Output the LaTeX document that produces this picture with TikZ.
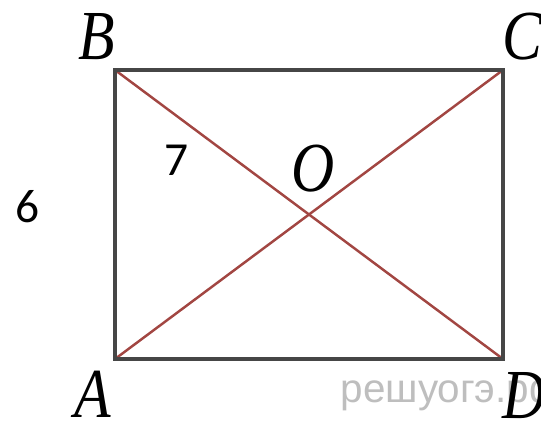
\documentclass[tikz,border=0pt]{standalone}
\usepackage{fontspec}
\setmainfont{Liberation Serif}
\newfontfamily\vertexfont[FakeStretch=0.85]{Liberation Serif}
\newfontfamily\numfont{Carlito}
\newfontfamily\markfont{Liberation Sans}
\usetikzlibrary{calc}
\definecolor{framegray}{RGB}{70,70,70}
\definecolor{diagred}{RGB}{162,70,66}
\definecolor{markgray}{RGB}{190,190,190}
\begin{document}
\begin{tikzpicture}[x=0.1mm,y=-0.1mm,
    vertex/.style={inner sep=0pt,font=\vertexfont\fontsize{20}{20}\selectfont\itshape},
    numlabel/.style={inner sep=0pt,font=\numfont\fontsize{13.5}{13.5}\selectfont},
    side/.style={draw=framegray,line width=1.1pt},
    diag/.style={draw=diagred,line width=0.7pt}]
  \useasboundingbox (0,0) rectangle (541,421);
  % corners of the rectangle
  \coordinate (A) at (115,359);
  \coordinate (B) at (115,70);
  \coordinate (C) at (503,70);
  \coordinate (D) at (503,359);
  % diagonals
  \draw[diag] (A) -- (C);
  \draw[diag] (B) -- (D);
  \draw[side] (A) -- (B) -- (C) -- (D) -- cycle;
  % watermark
  \node[inner sep=0pt,anchor=base west,text=markgray,
        font=\markfont\fontsize{11.5}{11.5}\selectfont] (mark) at (340,403) {решуогэ.рф};
  % labels
  \node[vertex] (lB) at (97,37) {B};
  \node[vertex] (lC) at (522,37) {C};
  \node[vertex] (lA) at (93,394) {A};
  \node[vertex] (lD) at (524,396) {D};
  \node[vertex] (lO) at (313,169) {O};
  \node[numlabel] (len7) at (177,160) {7};
  \node[numlabel] (len6) at (28,207) {6};
\end{tikzpicture}
\end{document}
